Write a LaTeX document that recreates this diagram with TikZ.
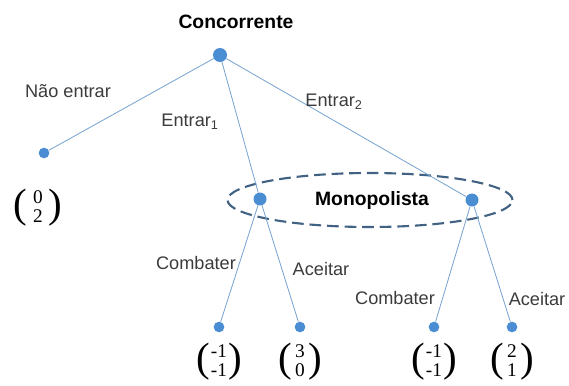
\documentclass[tikz,border=0pt]{standalone}
\usepackage{fontspec}
\setmainfont{Liberation Sans}
\newfontfamily\numfont{Liberation Serif}
\usepackage{xcolor}
\usetikzlibrary{positioning, shapes.geometric}
\definecolor{treeBlue}{RGB}{74,141,211}
\definecolor{branchBlue}{RGB}{118,163,207}
\definecolor{infoSlate}{RGB}{66,98,132}
\definecolor{darkText}{RGB}{25,25,25}
\newcommand{\payvec}[3][1pt]{{\fontsize{35}{35}\selectfont(}\hspace{#1}\raisebox{3.5pt}{\begin{tabular}{@{}c@{}}#2\\[-2pt]#3\end{tabular}}\hspace{#1}{\fontsize{35}{35}\selectfont)}}
\tikzset{
    rootnode/.style={
        circle,
        fill=treeBlue,
        inner sep=0pt,
        minimum size=0.42cm
    },
    decnode/.style={
        circle,
        fill=treeBlue,
        inner sep=0pt,
        minimum size=0.39cm
    },
    leafnode/.style={
        circle,
        fill=treeBlue,
        inner sep=0pt,
        minimum size=0.32cm
    },
    branch/.style={draw=branchBlue, line width=0.7pt},
    infoset/.style={
        ellipse,
        draw=infoSlate,
        line width=1.8pt,
        dash pattern=on 10pt off 5pt,
        inner sep=0pt,
        minimum width=8.55cm,
        minimum height=1.62cm
    },
    player/.style={font=\fontsize{16.5}{18}\selectfont\bfseries, text=black},
    movelabel/.style={font=\fontsize{15.5}{17}\selectfont, text=darkText!85},
    payoff/.style={inner sep=0pt, font=\numfont\fontsize{16.5}{18}\selectfont, text=black}
}
\begin{document}
\begin{tikzpicture}[x=0.03cm, y=-0.03cm]
        \useasboundingbox (0,0) rectangle (569,385);

        % information set of the monopolist
        \node[infoset] (info) at (370,200) {};

        \node[rootnode] (root) at (220,55) {};
        \node[player] (conc) at (236,22) {Concorrente};

        \node[leafnode] (out) at (44,153) {};
        \node[decnode] (mono1) at (260,199) {};
        \node[decnode] (mono2) at (472,200) {};
        \node[player] (mono) at (372,200) {Monopolista};

        \node[leafnode] (fight1) at (219,327) {};
        \node[leafnode] (accept1) at (300,327) {};
        \node[leafnode] (fight2) at (434,327) {};
        \node[leafnode] (accept2) at (512,327) {};

        \draw[branch] (root) -- (out);
        \draw[branch] (root) -- (mono1);
        \draw[branch] (root) -- (mono2);
        \draw[branch] (mono1) -- (fight1);
        \draw[branch] (mono1) -- (accept1);
        \draw[branch] (mono2) -- (fight2);
        \draw[branch] (mono2) -- (accept2);

        \node[movelabel] (lstay) at (68,91) {Não entrar};
        \node[movelabel] (lin1) at (190,122) {Entrar\textsubscript{1}};
        \node[movelabel] (lin2) at (334,102) {Entrar\textsubscript{2}};
        \node[movelabel] (lf1) at (196,263) {Combater};
        \node[movelabel] (la1) at (321,269) {Aceitar};
        \node[movelabel] (lf2) at (395,298) {Combater};
        \node[movelabel] (la2) at (537,299) {Aceitar};

        \node[payoff, below=0.9cm of out, xshift=-0.18cm] (pout) {\payvec[5pt]{0}{2}};
        \node[payoff, below=0.3cm of fight1] (pf1) {\payvec{-1}{-1}};
        \node[payoff, below=0.3cm of accept1] (pa1) {\payvec[3pt]{3}{0}};
        \node[payoff, below=0.3cm of fight2] (pf2) {\payvec{-1}{-1}};
        \node[payoff, below=0.3cm of accept2] (pa2) {\payvec[3pt]{2}{1}};
    \end{tikzpicture}
\end{document}
